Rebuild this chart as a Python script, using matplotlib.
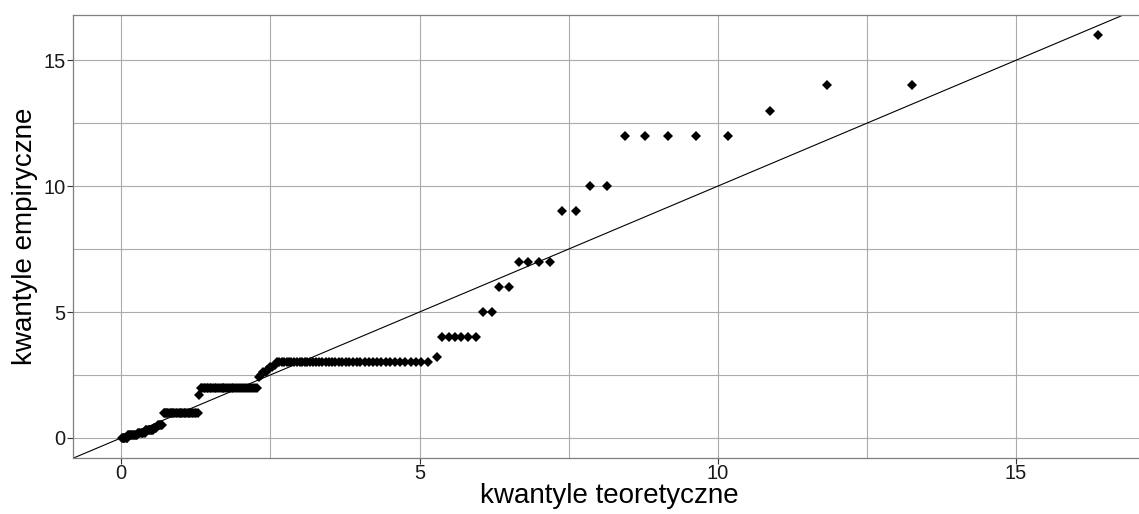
"""Wykres kwantyl-kwantyl (QQ) - kwantyle teoretyczne vs empiryczne."""

import matplotlib

matplotlib.use("Agg")

import matplotlib.pyplot as plt  # noqa: E402

# Kwantyle teoretyczne (oś X), rosnąco.
kwantyle_teoretyczne = [
    0.01, 0.02, 0.04, 0.05, 0.07, 0.09, 0.10, 0.12, 0.13, 0.15,
    0.17, 0.18, 0.20, 0.22, 0.23, 0.25, 0.27, 0.28, 0.30, 0.32,
    0.34, 0.35, 0.37, 0.39, 0.41, 0.42, 0.44, 0.46, 0.48, 0.50,
    0.52, 0.53, 0.55, 0.57, 0.59, 0.61, 0.63, 0.65, 0.67, 0.69,
    0.71, 0.73, 0.75, 0.77, 0.79, 0.81, 0.83, 0.85, 0.87, 0.89,
    0.92, 0.94, 0.96, 0.98, 1.00, 1.02, 1.05, 1.07, 1.09, 1.12,
    1.14, 1.16, 1.19, 1.21, 1.23, 1.26, 1.28, 1.31, 1.33, 1.36,
    1.38, 1.41, 1.43, 1.46, 1.49, 1.51, 1.54, 1.57, 1.59, 1.62,
    1.65, 1.68, 1.70, 1.73, 1.76, 1.79, 1.82, 1.85, 1.88, 1.91,
    1.94, 1.97, 2.01, 2.04, 2.07, 2.10, 2.14, 2.17, 2.20, 2.24,
    2.27, 2.31, 2.34, 2.38, 2.42, 2.45, 2.49, 2.53, 2.57, 2.61,
    2.65, 2.69, 2.73, 2.77, 2.81, 2.85, 2.90, 2.94, 2.99, 3.03,
    3.08, 3.12, 3.17, 3.22, 3.27, 3.32, 3.37, 3.43, 3.48, 3.53,
    3.59, 3.65, 3.70, 3.76, 3.82, 3.88, 3.95, 4.01, 4.08, 4.15,
    4.22, 4.29, 4.36, 4.44, 4.51, 4.59, 4.67, 4.76, 4.85, 4.94,
    5.03, 5.14, 5.30,
    5.38, 5.49, 5.59, 5.70, 5.82, 5.94,
    6.07, 6.21, 6.34, 6.50,
    6.66, 6.82, 7.00, 7.19,
    7.39, 7.63, 7.86, 8.14,
    8.44, 8.78, 9.16, 9.63, 10.18,
    10.87, 11.83, 13.25, 16.37,
]

# Kwantyle empiryczne (oś Y) - posortowana próba.
kwantyle_empiryczne = (
    [0.0] * 7
    + [0.1] * 10
    + [0.2] * 7
    + [0.3] * 8
    + [0.4] * 3
    + [0.5] * 5
    + [1.0] * 27
    + [1.7]
    + [2.0] * 33
    + [2.4, 2.5, 2.6, 2.6, 2.7, 2.8, 2.8, 2.9]
    + [3.0] * 43
    + [3.2]
    + [4.0] * 6
    + [5.0] * 2
    + [6.0] * 2
    + [7.0] * 4
    + [9.0] * 2
    + [10.0] * 2
    + [12.0] * 5
    + [13.0, 14.0, 14.0, 16.0]
)

ticks_major = [0, 5, 10, 15]
ticks_minor = [2.5, 7.5, 12.5]

W, H, DPI = 1139, 514, 100
fig = plt.figure(figsize=(W / DPI, H / DPI), dpi=DPI)
plt.rcParams["font.family"] = ["Liberation Sans", "DejaVu Sans"]

# Panel wychodzi poza prawą krawędź obrazka (jak w oryginale - przycięty).
left, right = 73 / W, 1146.5 / W
bottom, top = (H - 458) / H, (H - 15) / H
ax = fig.add_axes([left, bottom, right - left, top - bottom])

ax.set_xlim(-0.81, 17.19)
ax.set_ylim(-0.8, 16.8)

ax.set_xticks(ticks_major)
ax.set_yticks(ticks_major)
ax.set_xticks(ticks_minor, minor=True)
ax.set_yticks(ticks_minor, minor=True)

grid_kw = dict(color="#ababab", linewidth=0.8)
ax.grid(True, which="both", **grid_kw)
ax.set_axisbelow(True)

for sp in ax.spines.values():
    sp.set_color("#7f7f7f")
    sp.set_linewidth(0.9)
ax.spines["right"].set_visible(False)

ax.tick_params(axis="both", which="major", length=4, width=0.8,
               color="#333333", labelsize=14.5, labelcolor="#1a1a1a", pad=1.5)
ax.tick_params(axis="x", which="major", pad=0.5)
ax.tick_params(axis="both", which="minor", length=0)

# Linia y = x
ax.axline((0, 0), slope=1, color="black", linewidth=0.8, zorder=2)

ax.plot(kwantyle_teoretyczne, kwantyle_empiryczne, linestyle="none",
        marker="D", markersize=4.6, markeredgewidth=0, color="black", zorder=3)

ax.set_xlabel("kwantyle teoretyczne", fontsize=20, labelpad=0)
ax.set_ylabel("kwantyle empiryczne", fontsize=20, labelpad=4)

fig.savefig("out.png", dpi=DPI)
plt.close(fig)
